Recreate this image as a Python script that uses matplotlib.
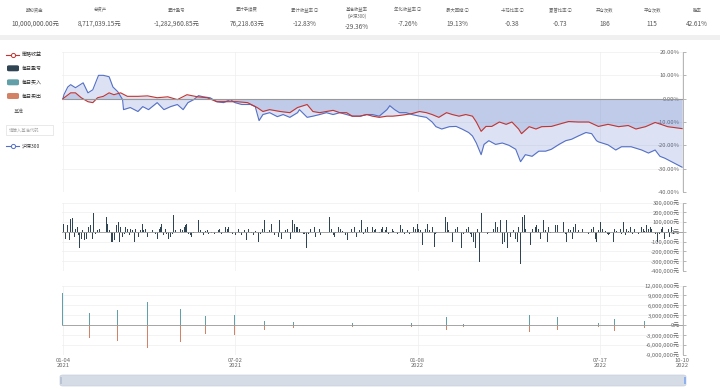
import matplotlib
matplotlib.use('Agg')
import matplotlib.pyplot as plt
from matplotlib.ticker import FuncFormatter
from matplotlib.patches import FancyBboxPatch, Rectangle
from matplotlib.lines import Line2D

plt.rcParams['font.family'] = ['Noto Sans CJK SC', 'DejaVu Sans']

# 顶部统计栏
stat_labels = ['期初资金', '总资产', '累计盈亏', '累计手续费', '累计收益率 ⓘ', '基准收益率\n(沪深300)',
               '年化收益率 ⓘ', '最大回撤 ⓘ', '卡玛比率 ⓘ', '夏普比率 ⓘ', '开仓次数', '平仓次数', '胜率']
stat_values = ['10,000,000.00元', '8,717,039.15元', '-1,282,960.85元', '76,218.63元', '-12.83%', '-29.36%',
               '-7.26%', '19.13%', '-0.38', '-0.73', '186', '115', '42.61%']

# x轴: 距 2021-01-04 的天数
xtick_day = [0, 179, 369, 559, 644]
xtick_labels = ['01-04\n2021', '07-02\n2021', '01-08\n2022', '07-17\n2022', '10-10\n2022']

# 沪深300 收益率 (%)
bench_day = [0, 1, 5, 8, 13, 21, 26, 31, 37, 42, 48, 52, 57, 62, 63, 70, 78, 83, 89, 98, 105, 112, 119,
             125, 130, 136, 141, 146, 153, 160, 167, 174, 179, 186, 195, 200, 204, 208, 215, 223, 229, 236,
             244, 246, 254, 260, 267, 274, 281, 288, 295, 301, 309, 316, 322, 329, 337, 340, 345, 350, 357,
             363, 371, 378, 384, 388, 394, 402, 409, 415, 422, 426, 430, 435, 438, 443, 450, 457, 464, 471,
             476, 481, 488, 495, 502, 508, 516, 523, 529, 536, 544, 550, 555, 557, 567, 575, 581, 591, 602,
             609, 616, 621, 626, 633, 644]
bench_ret = [0, 1.7, 5, 6, 4.7, 6.8, 2.5, 3.8, 10, 10, 9.4, 5, 3, -0.4, -4.7, -3.8, -5.5, -3.4, -4.7, -1.7,
             -4.7, -3.4, -2.5, -4.7, -1.7, -0.4, 1.3, 0.8, 0.4, -1.3, -1.7, -0.4, -1.7, -2.5, -2.5, -3.4,
             -9.4, -6.8, -6, -7.7, -6.8, -8, -6, -4.7, -8, -7.5, -6.8, -6, -6.8, -6, -6.8, -7.5, -7.5, -6.8,
             -6.8, -7.5, -4.7, -3, -4.7, -6, -6, -6.8, -7.5, -8, -10, -12, -13, -12, -11.9, -13, -14.5, -16,
             -19, -24, -19.6, -18, -19.6, -19, -20, -21.7, -27, -24, -24.7, -22.5, -22.5, -21.7, -19.6, -18,
             -17.4, -16, -14.5, -15, -18, -18.5, -19.8, -22, -20.6, -20.6, -22, -23.3, -22, -24.7, -25.5,
             -27, -29.36]

# 策略收益率 (%)
strat_day = [0, 8, 13, 19, 26, 31, 36, 42, 48, 53, 60, 67, 78, 88, 98, 109, 119, 129, 140, 150, 160, 171,
             181, 192, 202, 208, 215, 226, 236, 244, 254, 260, 267, 274, 281, 288, 295, 301, 309, 316, 322,
             329, 337, 343, 350, 357, 363, 371, 378, 384, 391, 399, 405, 412, 419, 426, 430, 435, 440, 446,
             454, 461, 467, 474, 477, 485, 492, 498, 508, 519, 526, 536, 547, 557, 567, 578, 588, 596, 606,
             616, 622, 629, 644]
strat_ret = [0, 2.5, 2.5, 0.4, -1.3, -1.7, 0.4, 1, 2.5, 1.7, 2.5, 1, 1, 1.2, 0.4, 0.8, -0.4, 1.7, 0.8, 0.4,
             -1.3, -1.3, -1.3, -1.7, -3.8, -5.5, -4.7, -5.5, -6, -3.8, -2.5, -5.5, -6, -5.5, -5, -6, -6,
             -7.5, -7.5, -6.8, -7.5, -8, -7.5, -7.5, -7.2, -6.8, -6.4, -5.5, -6, -6.8, -8, -6, -6.8, -7.5,
             -6.8, -7.5, -10, -14, -11.9, -11.9, -10, -11, -10, -13, -15, -12, -13, -12, -11.9, -10.6, -9.8,
             -10, -10, -11.9, -11, -12, -11.5, -13, -12, -10.2, -11, -12, -12.83]

# 每日盈亏 (千元)
pnl_day = [1, 3, 5, 7, 8, 10, 12, 13, 15, 16, 17, 19, 20, 22, 24, 25, 27, 29, 31, 32, 34, 36, 38, 45, 46,
           48, 50, 51, 52, 54, 56, 58, 59, 60, 62, 64, 65, 67, 69, 70, 72, 74, 75, 77, 79, 81, 83, 84, 86,
           88, 93, 96, 98, 100, 101, 103, 105, 107, 108, 110, 112, 114, 115, 117, 122, 124, 126, 127, 129,
           131, 133, 134, 136, 141, 143, 145, 146, 148, 150, 151, 155, 158, 162, 163, 165, 169, 171, 172,
           176, 179, 183, 184, 186, 189, 191, 193, 196, 198, 200, 203, 205, 208, 210, 213, 215, 217,
           220, 224, 225, 227, 231, 234, 237, 239, 241, 243, 244, 246, 250, 251, 253, 255, 258, 262, 263,
           267, 268, 277, 279, 281, 282, 284, 287, 289, 291, 294, 296, 300, 301, 303, 305, 308, 311, 313,
           315, 317, 318, 322, 324, 325, 329, 331, 332, 336, 337, 339, 343, 344, 348, 351, 353, 355, 358,
           360, 365, 367, 369, 370, 372, 374, 377, 379, 381, 384, 386, 388, 389, 398, 400, 401, 405, 408,
           410, 412, 415, 417, 420, 422, 424, 425, 427, 429, 431, 433, 435, 438, 442, 443, 448, 450, 452,
           455, 457, 459, 461, 462, 464, 466, 469, 471, 473, 474, 476, 478, 480, 481, 486, 488, 490, 492,
           493, 495, 497, 500, 502, 504, 505, 507, 512, 514, 516, 521, 523, 524, 526, 528, 530, 531, 533,
           535, 536, 540, 547, 550, 552, 554, 555, 557, 559, 561, 564, 566, 568, 569, 573, 574, 576, 580,
           581, 583, 585, 586, 588, 590, 592, 593, 595, 599, 602, 604, 605, 607, 609, 611, 612, 616, 618,
           619, 621, 623, 624, 626, 628, 630, 631, 633, 635]
pnl_val = [85, -68, 68, -85, 136, 143, -51, 34, 51, -34, -170, -68, 17, -85, -68, -51, 51, 68, -68, 188,
           -17, 17, 34, 153, 85, 17, -102, 119, -102, -85, 68, 102, -102, 51, -51, -17, 51, 34, -34, 34, 17,
           -102, 34, 119, -51, 17, 85, 17, 34, -51, 17, -17, -68, 34, 51, 85, -34, 34, -17, -68, -51, -17,
           170, 17, 34, 17, 51, 68, 85, -17, -34, -51, -10, 119, 17, -10, -34, 10, 17, -17, -10, -17, 17,
           34, -17, 51, 34, 51, -17, -34, 34, -10, -34, 17, -85, 34, -10, -34, 10, -102, -17, 34, 119, -10,
           17, 85, -34, -51, 119, -68, 17, 34, -68, 119, 85, 51, 51, 34, -17, -17, -170, -17, 34, 51, -51,
           34, -34, 153, 34, -34, -51, -10, 51, 34, 10, -34, -85, 34, -10, 51, -51, 17, 119, -17, 34, 51,
           -10, 51, 17, 34, -10, 34, 51, 17, 51, -17, 34, 10, -17, 68, 34, -17, 17, -17, 51, 34, 85, 34,
           17, -136, 34, 85, 17, 51, -153, -17, -10, 153, 102, 17, -102, 34, 51, 10, -170, -17, 34, 51,
           -17, -51, -102, -170, 34, -307, 188, 85, -17, -10, 34, 102, 51, 119, -119, -102, 119, -170, 34,
           -51, 17, -68, -102, 51, -324, 153, 170, 34, -136, 34, 17, 51, 68, 34, -68, 119, 17, -102, 51,
           -10, 68, 68, 34, 102, -17, -102, 34, 17, -68, 51, 85, -10, 17, 34, -17, 34, 51, -68, -102, 17,
           102, 34, 10, -17, -34, -17, -102, 34, 10, 34, -17, 102, -34, 34, 10, 51, -17, 10, 34, -17, 51,
           34, 10, 68, 34, 51, 34, -17, -102, 17, -17, 34, 51, -68, -10, 34, -51, 51, -17]

# 每日买入 / 卖出 (百万元)
trade_day = [0, 28, 57, 88, 122, 148, 178, 210, 240, 301, 363, 399, 417, 464, 485, 514, 557, 574, 605]
buy_val = [9.8, 3.8, 4.7, 7.1, 5.0, 2.7, 3.0, 1.2, 1.0, 0.7, 0.8, 2.5, 0.5, 0.6, 3.0, 2.5, 0.6, 1.8, 1.3]
sell_val = [0, 4.0, 4.8, 6.9, 5.0, 2.7, 3.0, 1.5, 0.8, 0.5, 0.6, 1.5, 0.4, 0.5, 2.0, 1.5, 0.5, 1.7, 0.7]

W, H = 720, 389
RED, BLUE = '#c23531', '#5470c6'
NAVY, TEAL, SALMON = '#2f4554', '#61a0a8', '#d48265'


def fx(x):
    return x / W


def fy(y):
    return 1 - y / H


def add_panel(fig, top, bottom):
    return fig.add_axes([fx(62), fy(bottom), fx(683 - 62), (bottom - top) / H])


def style_panel(ax, ticks, fmt):
    ax.set_xlim(-1, 645)
    ax.set_yticks(ticks)
    ax.set_ylim(ticks[0], ticks[-1])
    ax.yaxis.set_major_formatter(FuncFormatter(fmt))
    ax.yaxis.tick_right()
    ax.tick_params(axis='y', direction='out', length=2, width=0.5, color='#999999',
                   labelsize=4.2, labelcolor='#666666', pad=-4.3)
    for t in ax.yaxis.get_major_ticks():
        t.label2.set_horizontalalignment('right')
    ax.set_xticks(xtick_day)
    ax.tick_params(axis='x', length=0, labelbottom=False)
    ax.grid(True, color='#eeeeee', lw=0.5)
    ax.set_axisbelow(True)
    for s in ['top', 'left', 'bottom']:
        ax.spines[s].set_visible(False)
    ax.spines['right'].set_color('#aaaaaa')
    ax.spines['right'].set_linewidth(0.6)


fig = plt.figure(figsize=(7.2, 3.89), dpi=100)

# 统计栏
fig.patches.append(Rectangle((0, fy(40)), 1, 5 / H, transform=fig.transFigure,
                             fc='#f0f0f0', ec='none'))
stat_x = [35, 100, 177, 247, 305, 357, 408, 457, 512, 560, 605, 652, 697]
for x, lab, val in zip(stat_x, stat_labels, stat_values):
    two = '\n' in lab
    fig.text(fx(x), fy(12.5 if two else 10), lab, ha='center', va='center', fontsize=3.2,
             color='#666666', linespacing=1.6)
    fig.text(fx(x), fy(27 if two else 24), val, ha='center', va='center', fontsize=4.6,
             color='#555555')

# 收益曲线
ax1 = add_panel(fig, 52, 192)
ax1.fill_between(bench_day, bench_ret, 0, color=BLUE, alpha=0.2, lw=0)
ax1.fill_between(strat_day, strat_ret, 0, color=BLUE, alpha=0.2, lw=0)
ax1.plot(bench_day, bench_ret, color=BLUE, lw=0.8)
ax1.plot(strat_day, strat_ret, color=RED, lw=0.8)
ax1.axhline(0, color='#999999', lw=0.8)
style_panel(ax1, [-40, -30, -20, -10, 0, 10, 20], lambda v, p: f'{v:.2f}%')

# 每日盈亏
ax2 = add_panel(fig, 202.5, 271)
ax2.bar(pnl_day, [v * 1000 for v in pnl_val], width=1.0, color=NAVY, lw=0)
ax2.axhline(0, color='#999999', lw=0.6)
style_panel(ax2, [-400000, -300000, -200000, -100000, 0, 100000, 200000, 300000],
            lambda v, p: f'{int(v):,}元')

# 每日买入卖出
ax3 = add_panel(fig, 285.5, 355)
ax3.bar(trade_day, [v * 1e6 for v in buy_val], width=1.0, color=TEAL, lw=0)
ax3.bar(trade_day, [-v * 1e6 for v in sell_val], width=1.0, color=SALMON, lw=0)
ax3.axhline(0, color='#999999', lw=0.6)
style_panel(ax3, [-9e6, -6e6, -3e6, 0, 3e6, 6e6, 9e6, 12e6], lambda v, p: f'{int(v):,}元')
ax3.set_xticklabels(xtick_labels)
ax3.tick_params(axis='x', labelbottom=True, labelsize=4.2, labelcolor='#666666', pad=2)
for lbl in ax3.get_xticklabels():
    lbl.set_linespacing(1.0)

# 图例
def legend_line(y, color, text):
    fig.lines.append(Line2D([fx(6), fx(19)], [fy(y), fy(y)], color=color, lw=0.8,
                            transform=fig.transFigure))
    fig.lines.append(Line2D([fx(12.5)], [fy(y)], color=color, marker='o', markersize=3,
                            mfc='white', mew=0.7, transform=fig.transFigure))
    fig.text(fx(22), fy(y), text, ha='left', va='center', fontsize=3.6, color='#333333')


def legend_box(y, color, text):
    fig.patches.append(FancyBboxPatch((fx(7), fy(y + 3)), fx(12), 6 / H,
                                      boxstyle='round,pad=0,rounding_size=0.003',
                                      transform=fig.transFigure, fc=color, ec='none'))
    fig.text(fx(22), fy(y), text, ha='left', va='center', fontsize=3.6, color='#333333')


legend_line(54.5, RED, '策略收益')
legend_box(68.3, NAVY, '每日盈亏')
legend_box(82.3, TEAL, '每日买入')
legend_box(96, SALMON, '每日卖出')
fig.text(fx(18.5), fy(111.5), '基准', ha='center', va='center', fontsize=3.6, color='#666666')
fig.patches.append(Rectangle((fx(6), fy(135.5)), fx(46.5), 11 / H, transform=fig.transFigure,
                             fc='white', ec='#e0e0e0', lw=0.5))
fig.text(fx(8.5), fy(130), '请输入基准代码', ha='left', va='center', fontsize=3.2, color='#aaaaaa')
legend_line(146, BLUE, '沪深300')

# 底部滑块
fig.patches.append(FancyBboxPatch((fx(60), fy(386)), fx(626), 11 / H,
                                  boxstyle='round,pad=0,rounding_size=0.004',
                                  transform=fig.transFigure, fc='#d6dce6', ec='#c8d0dc', lw=0.5))
fig.patches.append(Rectangle((fx(683.5), fy(384)), fx(2.5), 7 / H, transform=fig.transFigure,
                             fc='#8fb0ee', ec='none'))
fig.patches.append(Rectangle((fx(59.5), fy(384)), fx(2), 7 / H, transform=fig.transFigure,
                             fc='#b8c4d6', ec='none'))

fig.savefig('out.png', dpi=100)
